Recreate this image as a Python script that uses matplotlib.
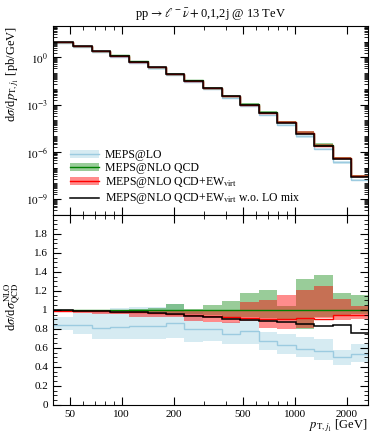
import matplotlib
matplotlib.use("Agg")
import matplotlib.pyplot as plt
from matplotlib.ticker import FixedLocator, MultipleLocator, NullFormatter, FuncFormatter, LogLocator
from matplotlib.patches import Patch
from matplotlib.lines import Line2D
import numpy as np

plt.rcParams['font.family'] = ['Liberation Serif', 'DejaVu Serif']
plt.rcParams['mathtext.fontset'] = 'stix'

# bin edges in pT [GeV]
edges = [40, 52, 67, 86, 110, 141, 180, 230, 295, 378, 483, 620, 790, 1010, 1290, 1660, 2120, 2650]

# MEPS@NLO QCD absolute cross section [pb/GeV]
nlo = [9.8, 5.5, 2.6, 1.35, 0.56, 0.24, 0.095, 0.035, 0.0123, 3.8e-3, 1.07e-3,
       3.3e-4, 8.3e-5, 1.66e-5, 2.7e-6, 4.3e-7, 3.2e-8]

# ratios to MEPS@NLO QCD
nlo_lo = [0.995, 0.99, 0.985, 0.985, 0.98, 0.975, 0.965, 0.96, 0.95, 0.93, 0.93,
          0.92, 0.91, 0.795, 0.93, 0.95, 0.96]
nlo_hi = [1.005, 1.005, 1.005, 1.005, 1.01, 1.025, 1.065, 1.01, 1.055, 1.09, 1.18,
          1.21, 1.04, 1.33, 1.37, 1.18, 1.155]

lo_c = [0.84, 0.845, 0.815, 0.825, 0.835, 0.835, 0.865, 0.80, 0.805, 0.75, 0.775,
        0.67, 0.63, 0.59, 0.567, 0.50, 0.54]
lo_lo = [0.787, 0.745, 0.69, 0.69, 0.69, 0.69, 0.71, 0.66, 0.674, 0.64, 0.645,
         0.575, 0.54, 0.50, 0.475, 0.42, 0.45]
lo_hi = [0.93, 0.97, 0.99, 1.02, 1.035, 1.03, 1.065, 0.98, 0.876, 0.876, 0.89,
         0.77, 0.75, 0.716, 0.69, 0.58, 0.645]

ew_c = [0.993, 0.99, 0.985, 0.982, 0.975, 0.965, 0.955, 0.947, 0.935, 0.93, 0.92,
        0.91, 0.91, 0.92, 0.91, 0.95, 0.95]
ew_lo = [0.985, 0.97, 0.955, 0.96, 0.93, 0.93, 0.925, 0.88, 0.875, 0.86, 0.88,
         0.81, 0.795, 0.815, 0.92, 0.89, 0.90]
ew_hi = [1.0, 1.0, 0.995, 0.995, 0.99, 0.985, 0.995, 0.985, 0.99, 1.0, 1.08,
         1.11, 1.16, 1.21, 1.255, 1.12, 1.04]

nomix_c = [0.996, 0.99, 0.986, 0.982, 0.975, 0.965, 0.954, 0.94, 0.925, 0.90, 0.894,
           0.883, 0.872, 0.855, 0.83, 0.845, 0.76]

labels = ["MEPS@LO", "MEPS@NLO QCD", r"MEPS@NLO QCD+EW$_{\mathrm{virt}}$",
          r"MEPS@NLO QCD+EW$_{\mathrm{virt}}$ w.o. LO mix"]

c_lo_band, c_lo_line = "#d6ebf2", "#9ccbe0"
c_nlo = "green"
c_ew = "red"

nlo = np.array(nlo)
r = {k: np.array(v) for k, v in dict(lo_c=lo_c, lo_lo=lo_lo, lo_hi=lo_hi, nlo_lo=nlo_lo, nlo_hi=nlo_hi,
                                        ew_c=ew_c, ew_lo=ew_lo, ew_hi=ew_hi, nomix_c=nomix_c).items()}
ones = np.ones_like(nlo)

fig = plt.figure(figsize=(3.7, 4.33), dpi=100)
ax1 = fig.add_axes([0.143, 0.5035, 0.852, 0.4365])
ax2 = fig.add_axes([0.143, 0.0647, 0.852, 0.4388])


def draw(ax, scale):
    ax.stairs(r['lo_hi'] * scale, edges, baseline=r['lo_lo'] * scale, fill=True, color=c_lo_band, lw=0)
    ax.stairs(r['nlo_hi'] * scale, edges, baseline=r['nlo_lo'] * scale, fill=True, color=c_nlo, alpha=0.4, lw=0)
    ax.stairs(r['ew_hi'] * scale, edges, baseline=r['ew_lo'] * scale, fill=True, color=c_ew, alpha=0.45, lw=0)
    ax.stairs(r['lo_c'] * scale, edges, baseline=None, color=c_lo_line, lw=1.0)
    ax.stairs(ones * scale, edges, baseline=None, color=c_nlo, lw=1.0)
    ax.stairs(r['ew_c'] * scale, edges, baseline=None, color=c_ew, lw=1.0)
    ax.stairs(r['nomix_c'] * scale, edges, baseline=None, color="black", lw=1.1)


draw(ax1, nlo)
draw(ax2, ones)

for ax in (ax1, ax2):
    ax.set_xscale('log')
    ax.set_xlim(40, 2650)
    ax.tick_params(which='both', direction='in', top=True, right=True, labelsize=8)
    ax.tick_params(which='major', length=6, width=0.8)
    ax.tick_params(which='minor', length=3, width=0.6)
    ax.xaxis.set_major_locator(FixedLocator([50, 100, 200, 500, 1000, 2000]))
    ax.xaxis.set_minor_locator(FixedLocator([40, 60, 70, 80, 90, 300, 400, 600, 700, 800, 900]))
    ax.xaxis.set_minor_formatter(NullFormatter())

ax1.xaxis.set_major_formatter(NullFormatter())
ax1.set_yscale('log')
ax1.set_ylim(1e-10, 1e2)
ax1.yaxis.set_major_locator(FixedLocator([1e-9, 1e-6, 1e-3, 1e0]))
ax1.yaxis.set_major_formatter(FuncFormatter(lambda v, p: r'$10^{%d}$' % round(np.log10(v))))
ax1.yaxis.set_minor_locator(LogLocator(base=10, subs=np.arange(1, 10), numticks=40))
ax1.yaxis.set_minor_formatter(NullFormatter())
ax1.set_ylabel(r'd$\sigma$/d$p_{\mathrm{T},j_1}$ [pb/GeV]', fontsize=9, loc='top')
ax1.yaxis.set_label_coords(-0.1, 1.0)
ax1.set_title(r'pp$\,\to\ell^-\bar{\nu}+$0,1,2j @ 13 TeV', fontsize=9, pad=6)

ax2.set_ylim(0, 2)
ax2.yaxis.set_major_locator(FixedLocator([0, 0.2, 0.4, 0.6, 0.8, 1.0, 1.2, 1.4, 1.6, 1.8]))
ax2.yaxis.set_major_formatter(FuncFormatter(lambda v, p: ('%.1f' % v).rstrip('0').rstrip('.')))
ax2.yaxis.set_minor_locator(MultipleLocator(0.05))
ax2.xaxis.set_major_formatter(FuncFormatter(lambda v, p: '%d' % v))
ax2.set_ylabel(r'd$\sigma$/d$\sigma^{\mathrm{NLO}}_{\mathrm{QCD}}$', fontsize=9)
ax2.yaxis.set_label_coords(-0.095, 0.52)
ax2.set_xlabel(r'$p_{\mathrm{T},j_1}$ [GeV]', fontsize=9, loc='right', labelpad=-1)

handles = [
    (Patch(color=c_lo_band, lw=0), Line2D([], [], color=c_lo_line, lw=1.0)),
    (Patch(color=c_nlo, alpha=0.4, lw=0), Line2D([], [], color=c_nlo, lw=1.0)),
    (Patch(color=c_ew, alpha=0.45, lw=0), Line2D([], [], color=c_ew, lw=1.0)),
    Line2D([], [], color="black", lw=1.1),
]
ax1.legend(handles, labels, loc='lower left', bbox_to_anchor=(0.055, 0.045), frameon=False,
           fontsize=8.5, handlelength=2.4, handleheight=0.6, labelspacing=0.1, handletextpad=0.55,
           borderaxespad=0, borderpad=0)

fig.savefig('out.png', dpi=100)
